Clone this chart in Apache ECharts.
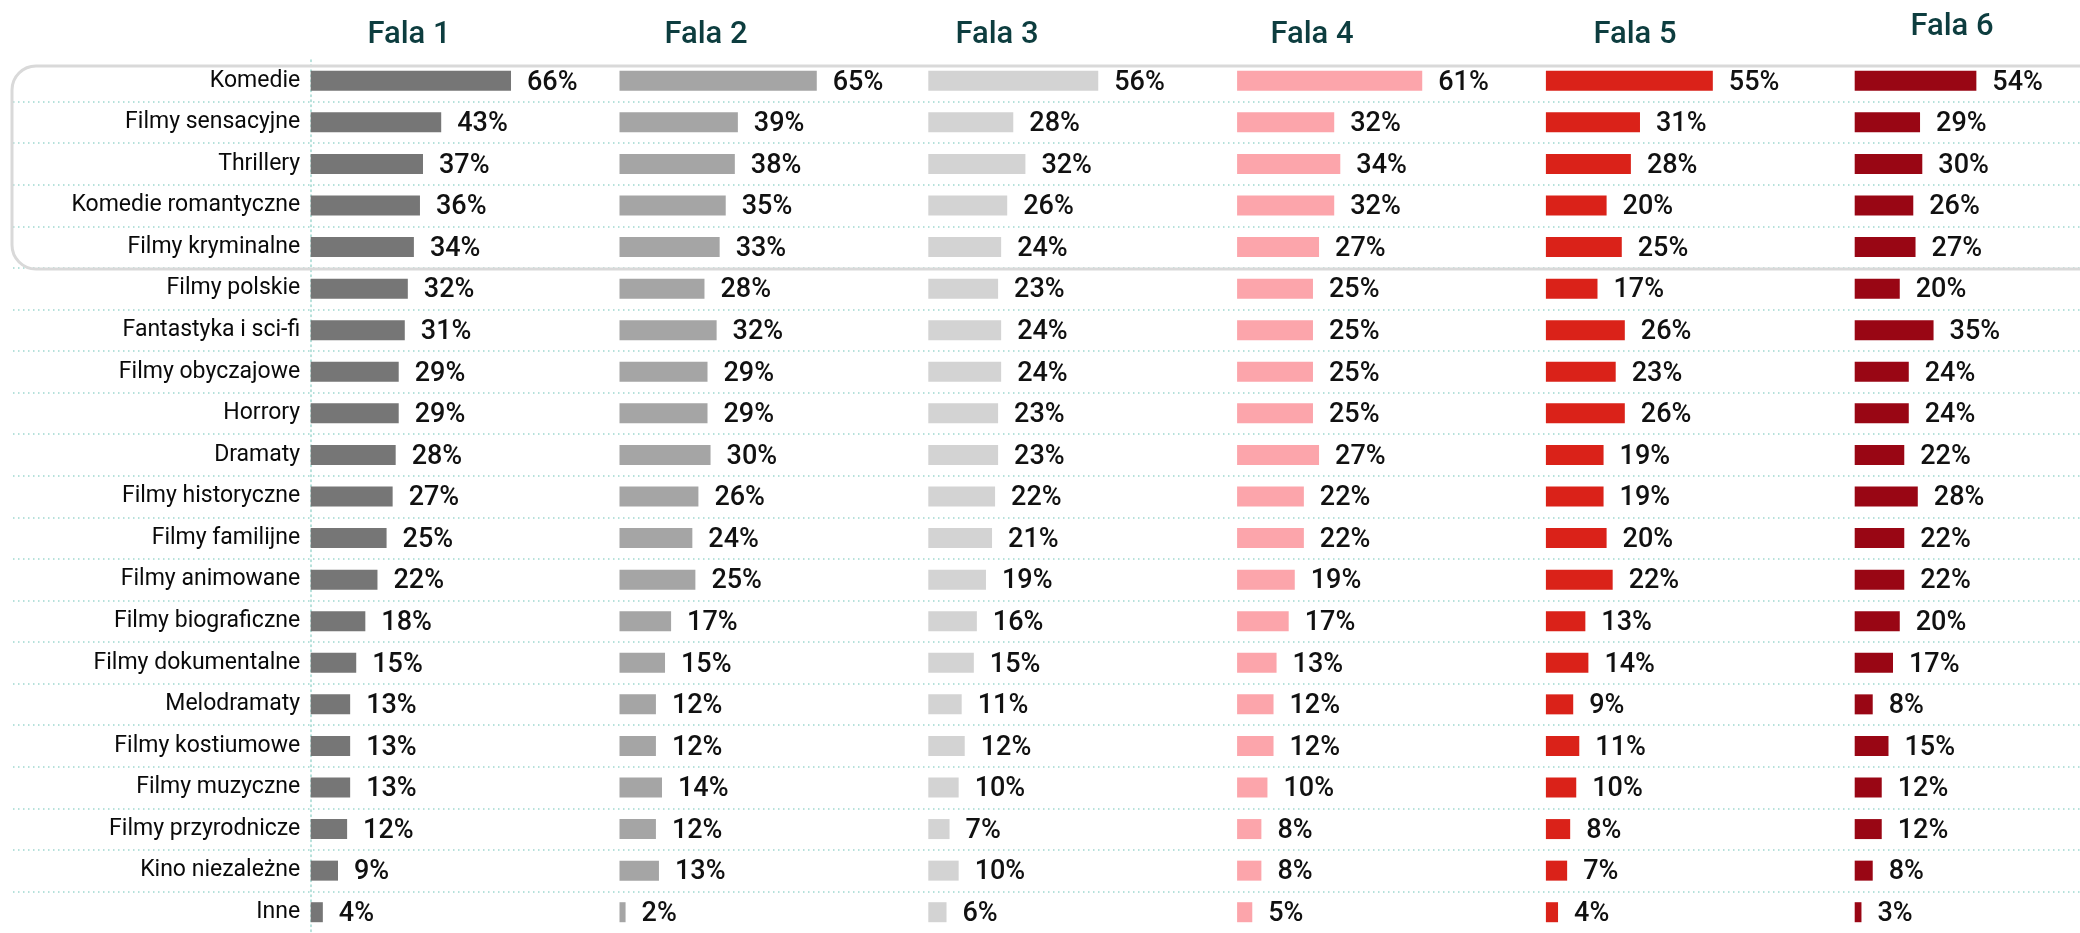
<!DOCTYPE html>
<html>
<head>
<meta charset="utf-8">
<title>Gatunki filmowe - fale</title>
<script src="https://cdn.jsdelivr.net/npm/echarts@6/dist/echarts.min.js"></script>
<style>
    html, body { margin: 0; padding: 0; background: #ffffff; }
    #chart { width: 2080px; height: 933px; }
</style>
</head>
<body>
<div id="chart"></div>
<script>
// dane z wykresu
const categories = ['Komedie', 'Filmy sensacyjne', 'Thrillery', 'Komedie romantyczne', 'Filmy kryminalne',
    'Filmy polskie', 'Fantastyka i sci-fi', 'Filmy obyczajowe', 'Horrory', 'Dramaty', 'Filmy historyczne',
    'Filmy familijne', 'Filmy animowane', 'Filmy biograficzne', 'Filmy dokumentalne', 'Melodramaty',
    'Filmy kostiumowe', 'Filmy muzyczne', 'Filmy przyrodnicze', 'Kino niezależne', 'Inne'];
const waveNames = ['Fala 1', 'Fala 2', 'Fala 3', 'Fala 4', 'Fala 5', 'Fala 6'];
const fala1 = [66, 43, 37, 36, 34, 32, 31, 29, 29, 28, 27, 25, 22, 18, 15, 13, 13, 13, 12, 9, 4];
const fala2 = [65, 39, 38, 35, 33, 28, 32, 29, 29, 30, 26, 24, 25, 17, 15, 12, 12, 14, 12, 13, 2];
const fala3 = [56, 28, 32, 26, 24, 23, 24, 24, 23, 23, 22, 21, 19, 16, 15, 11, 12, 10, 7, 10, 6];
const fala4 = [61, 32, 34, 32, 27, 25, 25, 25, 25, 27, 22, 22, 19, 17, 13, 12, 12, 10, 8, 8, 5];
const fala5 = [55, 31, 28, 20, 25, 17, 26, 23, 26, 19, 19, 20, 22, 13, 14, 9, 11, 10, 8, 7, 4];
const fala6 = [54, 29, 30, 26, 27, 20, 35, 24, 24, 22, 28, 22, 22, 20, 17, 8, 15, 12, 12, 8, 3];

document.addEventListener('DOMContentLoaded', function() {
    const chart = echarts.init(document.getElementById('chart'));

    const waves = [fala1, fala2, fala3, fala4, fala5, fala6];
    const colors = ['#767676', '#a5a5a5', '#d3d3d3', '#fca5ab', '#da2219', '#990614'];
    const titleX = [409, 706, 997, 1312, 1635, 1952];
    const titleY = [35, 35, 35, 35, 35, 27];
    const font = 'Roboto, "Liberation Sans", sans-serif';
    const dotted = { color: '#9fd8cf', width: 1.5, type: [1.5, 3.5] };

    const grids = [];
    const xAxes = [];
    const yAxes = [];
    const series = [];

    waves.forEach(function(values, i) {
        grids.push({ left: 310.7 + 308.8 * i, top: 60, width: 303.5, height: 873 });
        xAxes.push({ gridIndex: i, type: 'value', min: 0, max: 100, show: false });
        yAxes.push({
            gridIndex: i,
            type: 'category',
            inverse: true,
            data: categories,
            offset: i === 0 ? 7.5 : 0,
            axisLine: { show: i === 0, lineStyle: dotted },
            axisTick: { show: false },
            splitLine: { show: false },
            axisLabel: {
                show: i === 0,
                margin: 3,
                fontFamily: font,
                fontSize: 23,
                color: '#0a0a0a',
                padding: [3, 0, 0, 0]
            }
        });
        series.push({
            name: waveNames[i],
            type: 'bar',
            xAxisIndex: i,
            yAxisIndex: i,
            data: values,
            barWidth: 20,
            itemStyle: { color: colors[i] },
            label: {
                show: true,
                position: 'right',
                distance: 16,
                offset: [0, 2],
                formatter: '{c}%',
                fontFamily: font,
                fontWeight: 500,
                fontSize: 27,
                color: '#111111'
            },
            z: 5
        });
    });

    // siatka tła z kropkowanymi liniami między kategoriami
    grids.push({ left: 13, right: 0, top: 60, height: 873 });
    xAxes.push({ gridIndex: 6, type: 'value', show: false });
    yAxes.push({
        gridIndex: 6,
        type: 'category',
        inverse: true,
        data: categories,
        axisLine: { show: false },
        axisTick: { show: false },
        axisLabel: { show: false },
        splitLine: { show: true, showMinLine: false, showMaxLine: false, interval: 0, lineStyle: dotted },
        z: 0
    });

    const graphic = waveNames.map(function(name, i) {
        return {
            type: 'text',
            x: titleX[i],
            y: titleY[i],
            style: {
                text: name,
                fontFamily: font,
                fontWeight: 500,
                fontSize: 31,
                fill: '#0d3d3f',
                textAlign: 'center',
                textVerticalAlign: 'middle'
            }
        };
    });
    // ramka wokół pierwszych pięciu gatunków
    graphic.push({
        type: 'rect',
        shape: { x: 12, y: 66, width: 2100, height: 203, r: 24 },
        style: { fill: null, stroke: '#d9d9d9', lineWidth: 3 },
        z: 100
    });

    const option = {
        backgroundColor: '#ffffff',
        animation: false,
        grid: grids,
        xAxis: xAxes,
        yAxis: yAxes,
        series: series,
        graphic: graphic
    };

    chart.setOption(option);

    window.addEventListener('resize', function() {
        chart.resize();
    });
});
</script>
</body>
</html>
